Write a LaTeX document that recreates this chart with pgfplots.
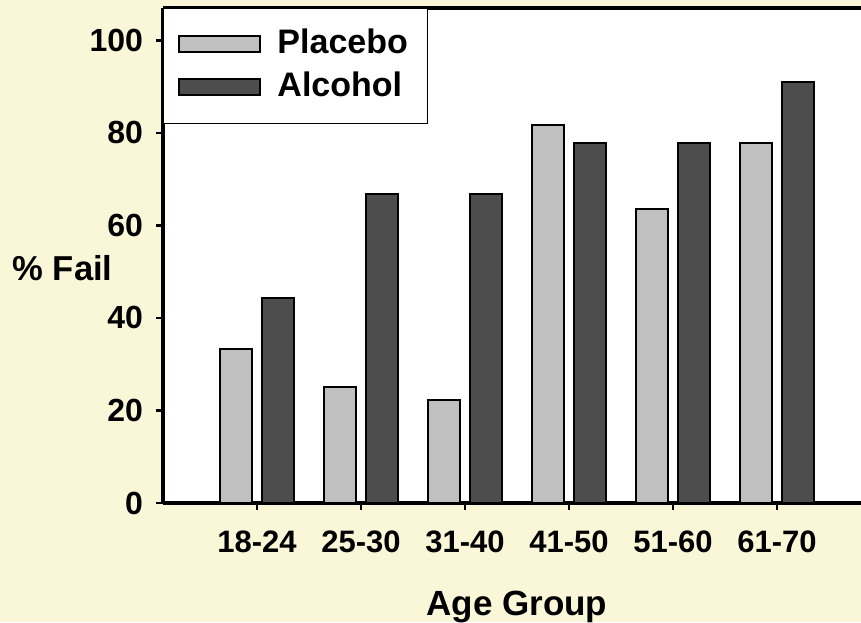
\documentclass[border=0pt]{standalone}
\usepackage{pgfplots}
\pgfplotsset{compat=1.18}
\usepackage{fontspec}
\setmainfont{Liberation Sans}
\definecolor{cream}{RGB}{250,247,217}
\definecolor{placebo}{RGB}{192,192,192}
\definecolor{alcohol}{RGB}{77,77,77}

% % Fail by age group, placebo vs alcohol
\pgfplotstableread{
idx placebo alcohol
0   33.3    44.4
1   25.0    66.7
2   22.2    66.7
3   81.8    77.8
4   63.6    77.8
5   77.8    90.9
}\faildata

\begin{document}
\begin{tikzpicture}
% page background
\fill[cream] (0pt,0pt) rectangle (430.5pt,311pt);
\path[use as bounding box] (0pt,0pt) rectangle (430.5pt,311pt);
\begin{axis}[
  at={(81.5pt,59.5pt)}, anchor=south west,
  scale only axis,
  width=349pt, height=247.5pt,
  axis background/.style={fill=white},
  ybar,
  bar width=0.31,
  xmin=-0.904, xmax=5.808,
  ymin=0, ymax=107,
  xtick={0,...,5},
  xticklabels={18-24,25-30,31-40,41-50,51-60,61-70},
  ytick={0,20,...,100},
  axis x line*=bottom,
  axis y line*=left,
  axis line style={line width=1.6pt, -},
  tick style={line width=1.3pt, black},
  tick align=outside,
  major tick length=3.5pt,
  x tick label style={font=\fontsize{15.5}{18}\selectfont\bfseries, yshift=-7pt},
  y tick label style={font=\fontsize{16}{18}\selectfont\bfseries, xshift=-3pt},
  /pgf/number format/assume math mode=true,
  xlabel={Age Group},
  xlabel style={font=\fontsize{17.5}{19}\selectfont\bfseries, at={(axis description cs:0.507,-0.21)}, anchor=center},
  ylabel={\% Fail},
  ylabel style={font=\fontsize{17.3}{19}\selectfont\bfseries, rotate=-90, inner sep=0pt,
    at={(axis description cs:-0.0716,0.475)}, anchor=east},
  legend style={
    at={(rel axis cs:0,1)}, anchor=north west,
    draw=black, line width=0.5pt, fill=white,
    font=\fontsize{17}{19}\selectfont\bfseries,
    inner xsep=7.5pt, inner ysep=9.5pt,
    row sep=4.5pt,
    nodes={inner xsep=0pt, inner ysep=0pt, text height=13pt, text depth=4pt},
  },
  legend image code/.code={
    \draw[#1, line width=1pt] (0pt,-4pt) rectangle (40pt,4pt);
    \path[draw=none, fill=none] (0pt,0pt) -- (49pt,0pt);
  },
  legend cell align=left,
  clip=false,
  after end axis/.code={
    \draw[line width=2pt] (rel axis cs:0,1) -- (rel axis cs:1,1);
  },
]
\addplot[fill=placebo, draw=black, line width=1pt, bar shift=-0.2] table[x=idx, y=placebo] {\faildata};
\addplot[fill=alcohol, draw=black, line width=1pt, bar shift=0.2] table[x=idx, y=alcohol] {\faildata};
\legend{\makebox[67.5pt][l]{Placebo}, \makebox[67.5pt][l]{Alcohol}}
\end{axis}
\end{tikzpicture}
\end{document}
